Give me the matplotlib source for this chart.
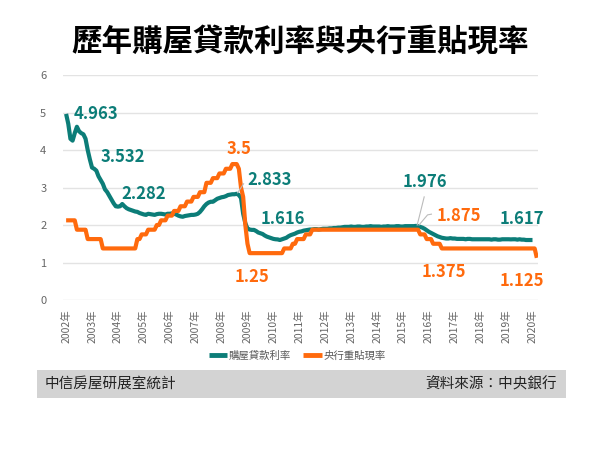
import numpy as np
import matplotlib.pyplot as plt
from matplotlib.patches import Rectangle

plt.rcParams['font.family'] = ['Noto Sans CJK TC', 'DejaVu Sans']

# 月資料 2002年1月起
years = list(range(2002, 2021))

mortgage = [
    4.963, 4.70, 4.30, 4.25, 4.45, 4.62, 4.50, 4.45, 4.42, 4.30, 4.00, 3.75,   # 2002
    3.532, 3.50, 3.45, 3.30, 3.20, 3.10, 2.95, 2.88, 2.78, 2.68, 2.58, 2.50,  # 2003
    2.49, 2.50, 2.56, 2.50, 2.45, 2.42, 2.40, 2.38, 2.36, 2.35, 2.32, 2.30,   # 2004
    2.282, 2.27, 2.30, 2.29, 2.28, 2.27, 2.29, 2.30, 2.30, 2.29, 2.28, 2.30,  # 2005
    2.30, 2.31, 2.30, 2.28, 2.25, 2.23, 2.22, 2.24, 2.25, 2.26, 2.27, 2.27,   # 2006
    2.28, 2.30, 2.35, 2.42, 2.50, 2.56, 2.60, 2.62, 2.62, 2.66, 2.70, 2.72,   # 2007
    2.74, 2.75, 2.77, 2.80, 2.81, 2.82, 2.82, 2.833, 2.80, 2.72, 2.30, 2.05,  # 2008
    1.90, 1.88, 1.87, 1.87, 1.84, 1.80, 1.78, 1.76, 1.72, 1.69, 1.67, 1.65,   # 2009
    1.63, 1.62, 1.616, 1.60, 1.62, 1.64, 1.66, 1.70, 1.73, 1.75, 1.77, 1.80,  # 2010
    1.82, 1.83, 1.85, 1.86, 1.87, 1.88, 1.88, 1.89, 1.89, 1.88, 1.89, 1.90,   # 2011
    1.90, 1.90, 1.91, 1.91, 1.92, 1.92, 1.93, 1.93, 1.94, 1.95, 1.95, 1.95,   # 2012
    1.96, 1.95, 1.95, 1.96, 1.96, 1.95, 1.95, 1.96, 1.96, 1.97, 1.96, 1.96,   # 2013
    1.96, 1.96, 1.95, 1.96, 1.96, 1.97, 1.96, 1.96, 1.96, 1.97, 1.97, 1.96,   # 2014
    1.96, 1.97, 1.97, 1.97, 1.97, 1.97, 1.976, 1.97, 1.95, 1.93, 1.90, 1.86,  # 2015
    1.82, 1.79, 1.76, 1.73, 1.70, 1.68, 1.66, 1.65, 1.64, 1.64, 1.65, 1.64,   # 2016
    1.64, 1.63, 1.63, 1.63, 1.63, 1.62, 1.63, 1.63, 1.62, 1.62, 1.62, 1.62,   # 2017
    1.62, 1.62, 1.62, 1.62, 1.62, 1.61, 1.62, 1.62, 1.61, 1.61, 1.62, 1.62,   # 2018
    1.62, 1.62, 1.617, 1.62, 1.62, 1.61, 1.62, 1.61, 1.61, 1.60, 1.60, 1.60,  # 2019
    1.60,                                                                      # 2020
]

discount = [
    2.125, 2.125, 2.125, 2.125, 2.125, 1.875, 1.875, 1.875, 1.875, 1.875, 1.625, 1.625,  # 2002
    1.625, 1.625, 1.625, 1.625, 1.625, 1.375, 1.375, 1.375, 1.375, 1.375, 1.375, 1.375,  # 2003
    1.375, 1.375, 1.375, 1.375, 1.375, 1.375, 1.375, 1.375, 1.375, 1.625, 1.625, 1.75,   # 2004
    1.75, 1.75, 1.875, 1.875, 1.875, 1.875, 2.0, 2.0, 2.125, 2.125, 2.125, 2.25,         # 2005
    2.25, 2.25, 2.375, 2.375, 2.375, 2.5, 2.5, 2.5, 2.625, 2.625, 2.625, 2.75,           # 2006
    2.75, 2.75, 2.875, 2.875, 2.875, 3.125, 3.125, 3.125, 3.25, 3.25, 3.25, 3.375,       # 2007
    3.375, 3.375, 3.5, 3.5, 3.5, 3.625, 3.625, 3.625, 3.5, 3.0, 2.75, 2.0,              # 2008
    1.5, 1.25, 1.25, 1.25, 1.25, 1.25, 1.25, 1.25, 1.25, 1.25, 1.25, 1.25,              # 2009
    1.25, 1.25, 1.25, 1.25, 1.25, 1.375, 1.375, 1.375, 1.375, 1.5, 1.5, 1.625,          # 2010
    1.625, 1.625, 1.625, 1.75, 1.75, 1.75, 1.875, 1.875, 1.875, 1.875, 1.875, 1.875,    # 2011
    1.875, 1.875, 1.875, 1.875, 1.875, 1.875, 1.875, 1.875, 1.875, 1.875, 1.875, 1.875, # 2012
    1.875, 1.875, 1.875, 1.875, 1.875, 1.875, 1.875, 1.875, 1.875, 1.875, 1.875, 1.875, # 2013
    1.875, 1.875, 1.875, 1.875, 1.875, 1.875, 1.875, 1.875, 1.875, 1.875, 1.875, 1.875, # 2014
    1.875, 1.875, 1.875, 1.875, 1.875, 1.875, 1.875, 1.875, 1.75, 1.75, 1.75, 1.625,    # 2015
    1.625, 1.625, 1.5, 1.5, 1.5, 1.5, 1.375, 1.375, 1.375, 1.375, 1.375, 1.375,         # 2016
    1.375, 1.375, 1.375, 1.375, 1.375, 1.375, 1.375, 1.375, 1.375, 1.375, 1.375, 1.375, # 2017
    1.375, 1.375, 1.375, 1.375, 1.375, 1.375, 1.375, 1.375, 1.375, 1.375, 1.375, 1.375, # 2018
    1.375, 1.375, 1.375, 1.375, 1.375, 1.375, 1.375, 1.375, 1.375, 1.375, 1.375, 1.375, # 2019
    1.375, 1.375, 1.125,                                                                 # 2020
]

# 標註文字 (x 位置以年計, y 值)
teal_labels = [("4.963", 1.16, 4.96), ("3.532", 2.2, 3.81), ("2.282", 3.01, 2.83),
               ("2.833", 7.84, 3.2), ("1.616", 8.38, 2.16), ("1.976", 13.86, 3.15),
               ("1.617", 17.59, 2.16)]
orange_labels = [("3.5", 6.68, 4.03), ("1.25", 7.18, 0.61), ("1.875", 15.14, 2.24),
                 ("1.375", 14.59, 0.75), ("1.125", 17.59, 0.51)]

teal = '#0c7d78'
orange = '#ff6a0d'

fig = plt.figure(figsize=(6, 4.5), dpi=100)
ax = fig.add_axes([0.105, 0.3333, 0.792, 0.5])

t_m = np.arange(len(mortgage)) / 12.0
t_d = np.arange(len(discount)) / 12.0
ax.plot(t_m, mortgage, color=teal, lw=3.0, label='購屋貸款利率', solid_capstyle='butt')
ax.plot(t_d, discount, color=orange, lw=3.0, label='央行重貼現率', solid_capstyle='butt')

ax.set_xlim(-0.12, 18.22)
ax.set_ylim(0, 6)
ax.set_yticks(range(0, 7))
ax.set_xticks([y - 2002 for y in years])
ax.set_xticklabels([f"{y}年" for y in years], rotation=90)
ax.grid(axis='y', color='#e3e3e3', lw=1)
ax.set_axisbelow(True)
for s in ax.spines.values():
    s.set_visible(False)
ax.tick_params(axis='y', length=0, pad=12, labelsize=8, labelcolor='#666666')
ax.tick_params(axis='x', length=0, pad=7, labelsize=7.5, labelcolor='#666666')

for txt, x, y in teal_labels:
    ax.text(x, y, txt, color=teal, fontsize=12, fontweight='bold', ha='center', va='center')
for txt, x, y in orange_labels:
    ax.text(x, y, txt, color=orange, fontsize=12, fontweight='bold', ha='center', va='center')

# 引導線
ax.plot([6.62, 6.85], [2.86, 3.1], color='#bbbbbb', lw=0.8)
ax.plot([13.55, 13.82], [2.0, 2.75], color='#bbbbbb', lw=0.8)
ax.plot([13.62, 13.95, 14.1], [2.0, 2.27, 2.29], color='#bbbbbb', lw=0.8)

fig.text(0.5, 0.907, '歷年購屋貸款利率與央行重貼現率', ha='center', va='center',
         fontsize=22, fontweight='black', color='black')

fig.legend(loc='center', bbox_to_anchor=(0.495, 0.209), ncol=2, frameon=False,
           fontsize=7.5, labelcolor='#595959', handlelength=1.8, handletextpad=0.1,
           columnspacing=1.2)
for h in fig.legends[0].get_lines():
    h.set_linewidth(3.5)

fig.patches.append(Rectangle((0.062, 0.1156), 0.882, 0.062, transform=fig.transFigure,
                             facecolor='#d3d3d3', edgecolor='none', zorder=0))
fig.text(0.075, 0.1467, '中信房屋研展室統計', ha='left', va='center', fontsize=10.5, color='#222222')
fig.text(0.928, 0.1467, '資料來源：中央銀行', ha='right', va='center', fontsize=10.5, color='#222222')

plt.savefig('out.png', dpi=100)
